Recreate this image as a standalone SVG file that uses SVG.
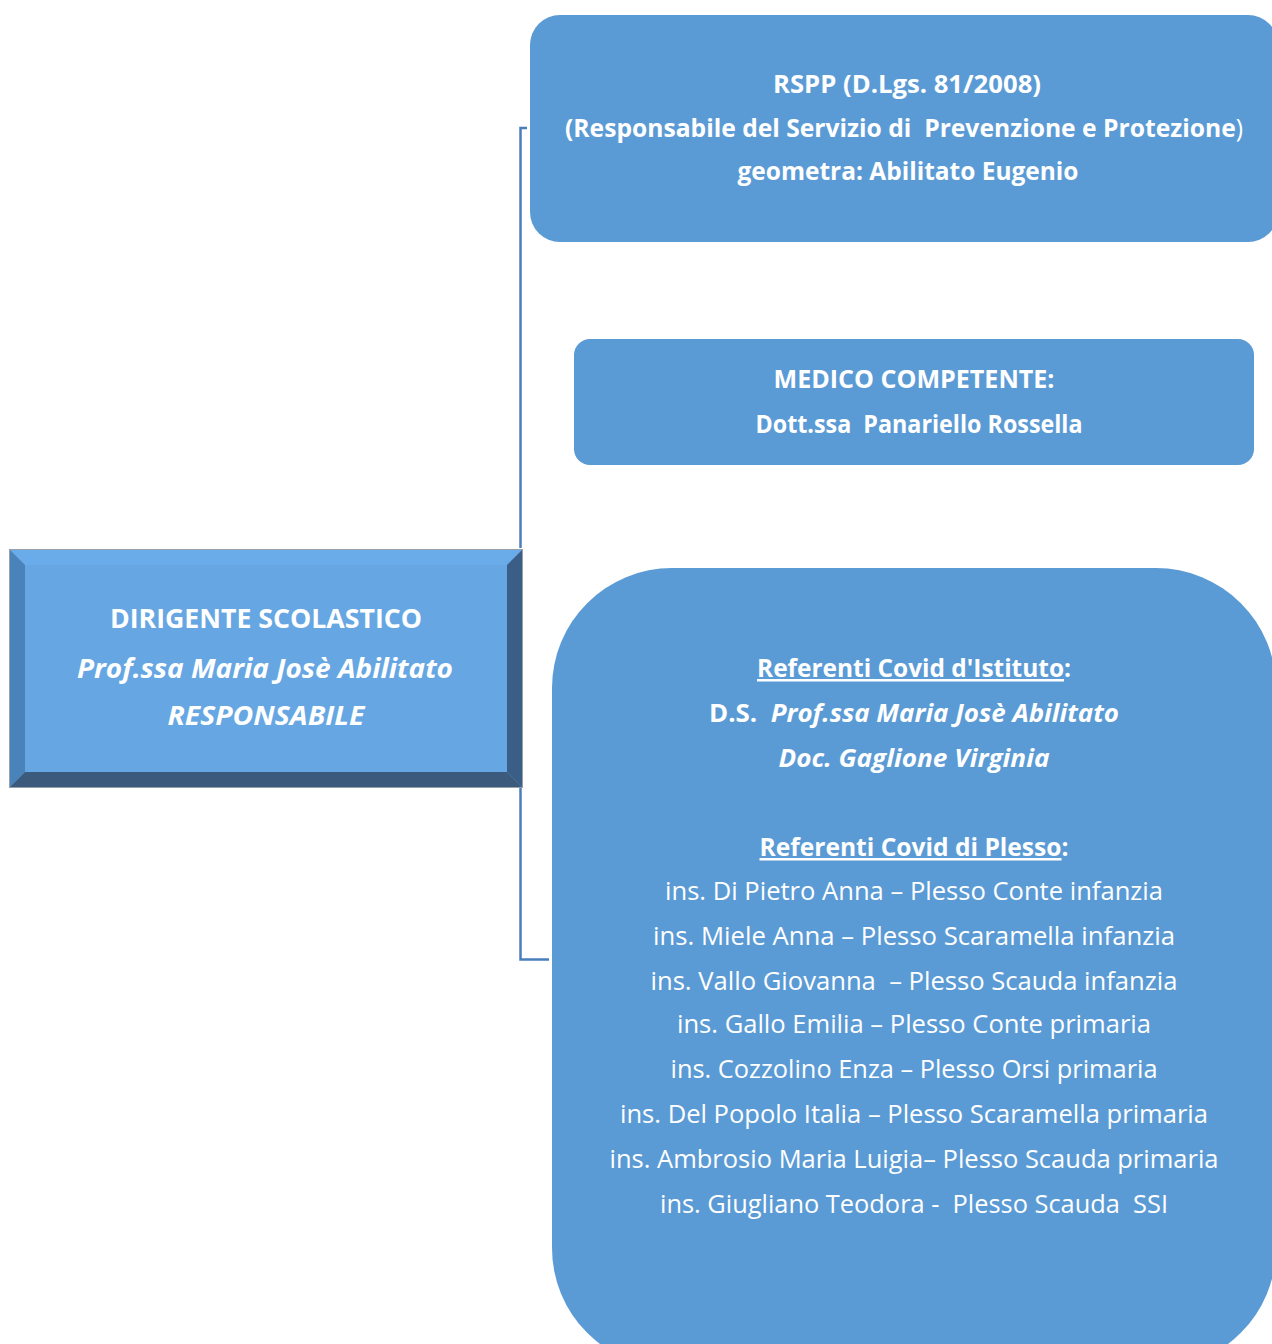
<svg xmlns="http://www.w3.org/2000/svg" width="1272" height="1344" viewBox="0 0 1272 1344">
<style>
.box{fill:#5B9BD5;}
.t{font-family:"Open Sans",Lato,"Liberation Sans",sans-serif;fill:#FFFFFF;text-anchor:middle;font-size:25px;}
.big{font-size:26px;}
.b{font-weight:bold;}
.i{font-style:italic;}
.u{text-decoration:underline;}
.conn{fill:none;stroke:#4A7EBB;stroke-width:2.5;}
</style>
<rect width="1272" height="1344" fill="#FFFFFF"/>
<g id="connectors">
<polyline class="conn" points="527,128 520.5,128 520.5,548"/>
<polyline class="conn" points="520.5,788 520.5,959.5 549,959.5"/>
</g>
<g id="dirigente">
<rect x="9" y="549" width="514" height="239" fill="#9AA0A8"/>
<rect x="10" y="550" width="512" height="237" fill="#66A7E3"/>
<polygon points="10,550 522,550 507,565 25,565" fill="#6AACEA"/>
<polygon points="10,550 25,565 25,772 10,787" fill="#4A83BA"/>
<polygon points="522,550 522,787 507,772 507,565" fill="#3A5E86"/>
<polygon points="10,787 25,772 507,772 522,787" fill="#3B5A7C"/>
<text class="t big b" x="266" y="628" textLength="312" lengthAdjust="spacingAndGlyphs">DIRIGENTE SCOLASTICO</text>
<text class="t big b i" x="265" y="678" textLength="376" lengthAdjust="spacingAndGlyphs">Prof.ssa Maria Josè Abilitato</text>
<text class="t big b i" x="266" y="725" textLength="197" lengthAdjust="spacingAndGlyphs">RESPONSABILE</text>
</g>
<g id="rspp">
<rect class="box" x="530" y="15" width="748" height="227" rx="30" ry="30"/>
<text class="t b" x="907" y="93" textLength="268" lengthAdjust="spacingAndGlyphs">RSPP (D.Lgs. 81/2008)</text>
<text class="t b" x="904" y="137" textLength="678" lengthAdjust="spacingAndGlyphs" xml:space="preserve">(Responsabile del Servizio di  Prevenzione e Protezione<tspan font-weight="normal">)</tspan></text>
<text class="t b" x="908" y="180" textLength="341" lengthAdjust="spacingAndGlyphs">geometra: Abilitato Eugenio</text>
</g>
<g id="medico">
<rect class="box" x="574" y="339" width="680" height="126" rx="16" ry="16"/>
<text class="t b" x="914" y="388" textLength="281" lengthAdjust="spacingAndGlyphs">MEDICO COMPETENTE:</text>
<text class="t b" x="919" y="433" textLength="327" lengthAdjust="spacingAndGlyphs" xml:space="preserve">Dott.ssa  Panariello Rossella</text>
</g>
<g id="referenti">
<rect class="box" x="552" y="568" width="724" height="800" rx="120" ry="120"/>
<text class="t b" x="914" y="677" textLength="314" lengthAdjust="spacingAndGlyphs"><tspan class="u">Referenti Covid d'Istituto</tspan>:</text>
<text class="t b" x="914" y="722" textLength="410" lengthAdjust="spacingAndGlyphs" xml:space="preserve">D.S.  <tspan class="i">Prof.ssa Maria Josè Abilitato</tspan></text>
<text class="t b i" x="914" y="767" textLength="271" lengthAdjust="spacingAndGlyphs">Doc. Gaglione Virginia</text>
<text class="t b" x="914" y="856" textLength="309" lengthAdjust="spacingAndGlyphs"><tspan class="u">Referenti Covid di Plesso</tspan>:</text>
<text class="t" x="914" y="900" textLength="498" lengthAdjust="spacingAndGlyphs">ins. Di Pietro Anna – Plesso Conte infanzia</text>
<text class="t" x="914" y="945" textLength="522" lengthAdjust="spacingAndGlyphs">ins. Miele Anna – Plesso Scaramella infanzia</text>
<text class="t" x="914" y="990" textLength="527" lengthAdjust="spacingAndGlyphs" xml:space="preserve">ins. Vallo Giovanna  – Plesso Scauda infanzia</text>
<text class="t" x="914" y="1033" textLength="474" lengthAdjust="spacingAndGlyphs">ins. Gallo Emilia – Plesso Conte primaria</text>
<text class="t" x="914" y="1078" textLength="487" lengthAdjust="spacingAndGlyphs">ins. Cozzolino Enza – Plesso Orsi primaria</text>
<text class="t" x="914" y="1123" textLength="588" lengthAdjust="spacingAndGlyphs">ins. Del Popolo Italia – Plesso Scaramella primaria</text>
<text class="t" x="914" y="1168" textLength="609" lengthAdjust="spacingAndGlyphs">ins. Ambrosio Maria Luigia– Plesso Scauda primaria</text>
<text class="t" x="914" y="1213" textLength="508" lengthAdjust="spacingAndGlyphs" xml:space="preserve">ins. Giugliano Teodora -  Plesso Scauda  SSI</text>
</g>
</svg>
